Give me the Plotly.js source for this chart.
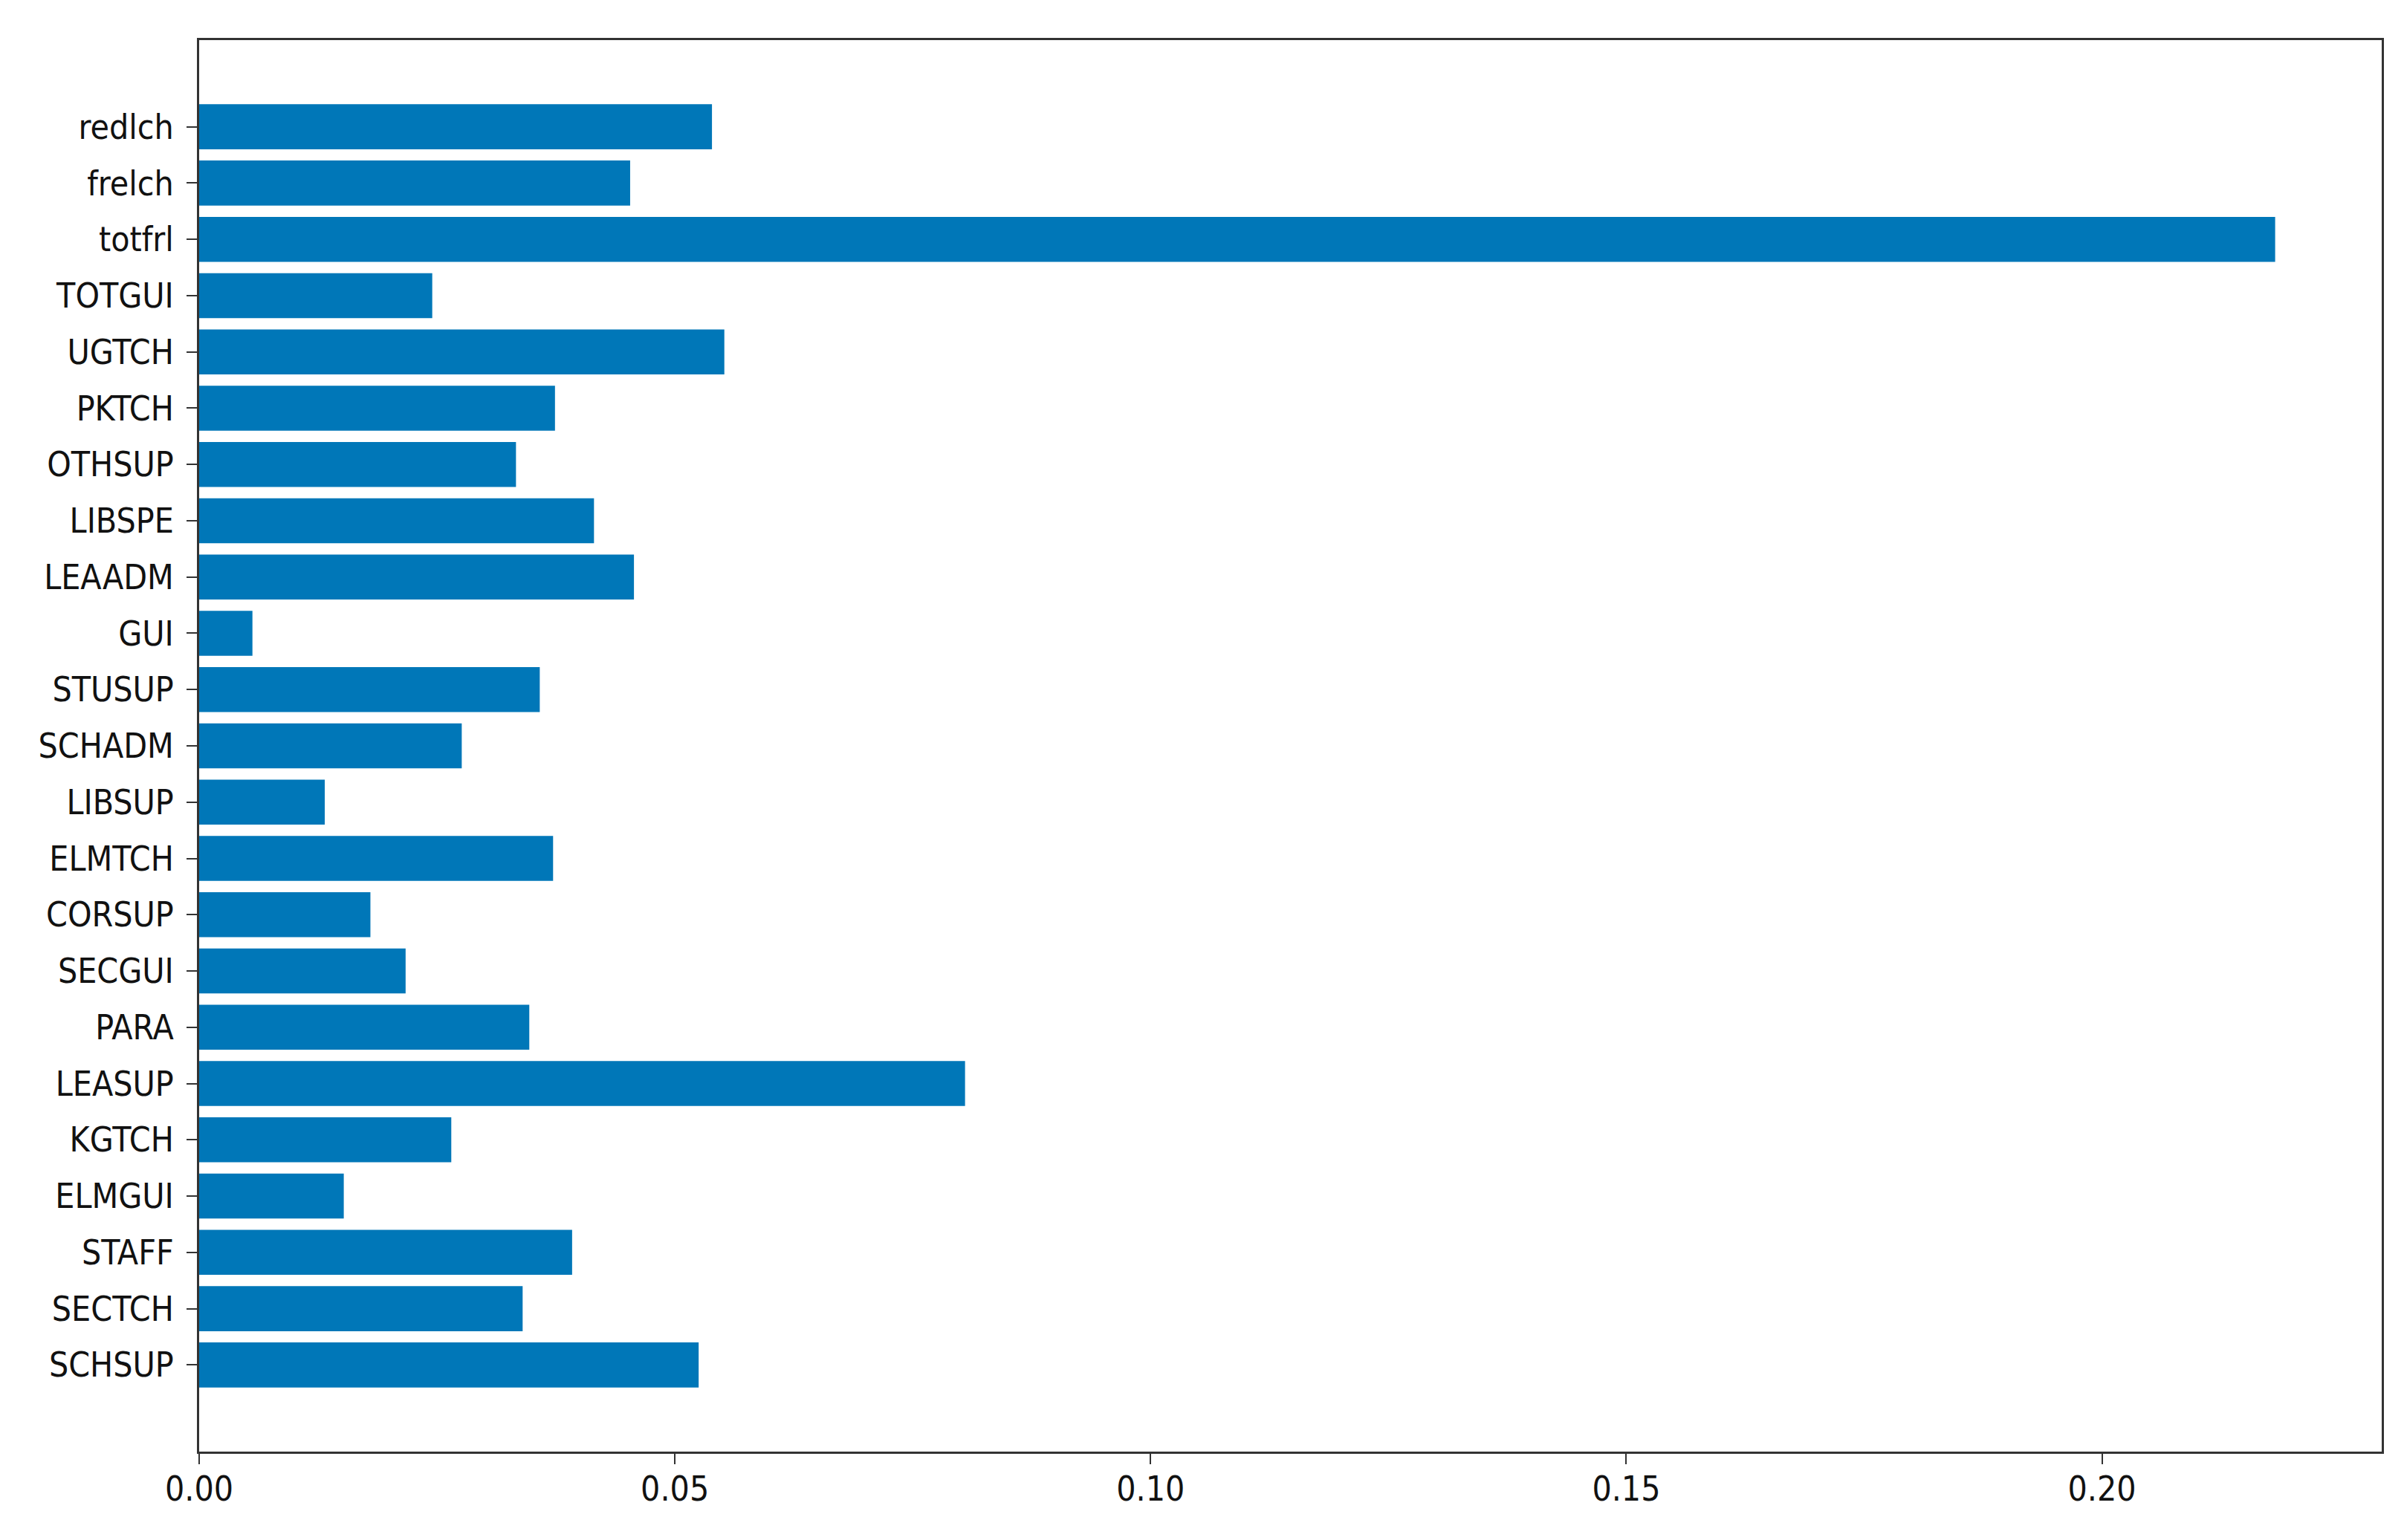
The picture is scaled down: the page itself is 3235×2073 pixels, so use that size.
<!DOCTYPE html>
<html>
<head>
<meta charset="utf-8">
<script src="https://cdn.plot.ly/plotly-3.0.1.min.js"></script>
<style>
  html, body { margin: 0; padding: 0; background: #fff; }
  #chart { width: 3235px; height: 2073px; }
</style>
</head>
<body>
<div id="chart"></div>
<script>
// Feature names, bottom to top as drawn
const features = [
    'SCHSUP', 'SECTCH', 'STAFF', 'ELMGUI', 'KGTCH', 'LEASUP', 'PARA',
    'SECGUI', 'CORSUP', 'ELMTCH', 'LIBSUP', 'SCHADM', 'STUSUP', 'GUI',
    'LEAADM', 'LIBSPE', 'OTHSUP', 'PKTCH', 'UGTCH', 'TOTGUI', 'totfrl',
    'frelch', 'redlch'
];

// Importance values
const importances = [
    0.0525, 0.0340, 0.0392, 0.0152, 0.0265, 0.0805, 0.0347,
    0.0217, 0.0180, 0.0372, 0.0132, 0.0276, 0.0358, 0.0056,
    0.0457, 0.0415, 0.0333, 0.0374, 0.0552, 0.0245, 0.2182,
    0.0453, 0.0539
];

const xTicks = [0, 0.05, 0.10, 0.15, 0.20];
const xTickText = ['0.00', '0.05', '0.10', '0.15', '0.20'];

const fontFamily = '"DejaVu Sans Condensed", "DejaVu Sans", sans-serif';

const trace = {
    type: 'bar',
    orientation: 'h',
    x: importances,
    y: features,
    width: 0.8,
    marker: { color: '#0077b8', line: { width: 0 } },
    hoverinfo: 'x+y'
};

const axisCommon = {
    showline: true,
    linecolor: '#333',
    linewidth: 3,
    mirror: true,
    ticks: 'outside',
    ticklen: 14,
    tickwidth: 2,
    tickcolor: '#333',
    showgrid: false,
    zeroline: false,
    tickfont: { family: fontFamily, size: 46, color: '#111' }
};

const layout = {
    width: 3235,
    height: 2073,
    paper_bgcolor: '#fff',
    plot_bgcolor: '#fff',
    margin: { l: 268, r: 30, t: 54, b: 119 },
    showlegend: false,
    xaxis: Object.assign({}, axisCommon, {
        range: [0, 0.2294],
        tickvals: xTicks,
        ticktext: xTickText,
        ticklabelstandoff: -6
    }),
    yaxis: Object.assign({}, axisCommon, {
        type: 'category',
        range: [-1.54, 23.54],
        ticklabelstandoff: 8
    })
};

Plotly.newPlot('chart', [trace], layout, { displayModeBar: false, staticPlot: true });
</script>
</body>
</html>
